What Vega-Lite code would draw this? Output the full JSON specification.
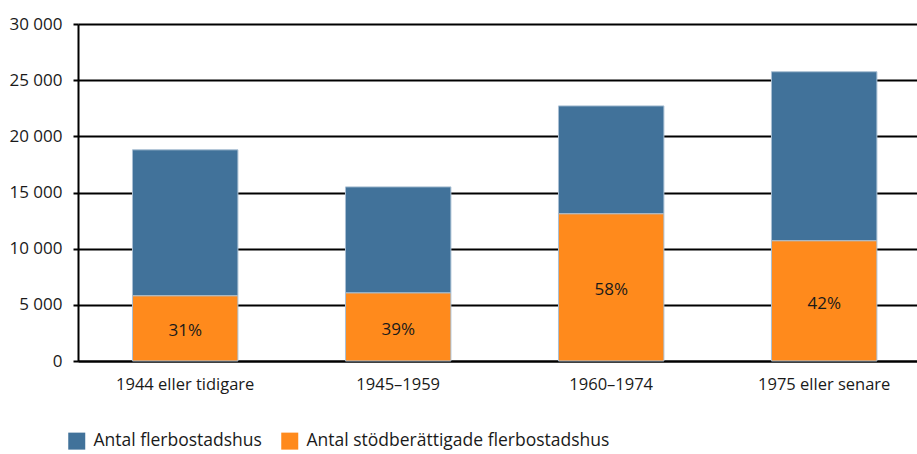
{
  "$schema": "https://vega.github.io/schema/vega-lite/v6.json",
  "autosize": "none",
  "width": 839,
  "height": 337,
  "padding": {"left": 78, "top": 24, "right": 0, "bottom": 93},
  "config": {
    "font": "Open Sans",
    "view": {"stroke": null},
    "axis": {"labelFont": "Open Sans", "labelColor": "#1a1a1a", "titleFont": "Open Sans"},
    "legend": {"labelFont": "Open Sans"}
  },
  "data": {
    "values": [
      {"period": "1944 eller tidigare", "serie": "Antal flerbostadshus", "value": 13000, "ord": 2, "label": ""},
      {"period": "1944 eller tidigare", "serie": "Antal stödberättigade flerbostadshus", "value": 5800, "ord": 1, "label": "31%"},
      {"period": "1945–1959", "serie": "Antal flerbostadshus", "value": 9440, "ord": 2, "label": ""},
      {"period": "1945–1959", "serie": "Antal stödberättigade flerbostadshus", "value": 6060, "ord": 1, "label": "39%"},
      {"period": "1960–1974", "serie": "Antal flerbostadshus", "value": 9610, "ord": 2, "label": ""},
      {"period": "1960–1974", "serie": "Antal stödberättigade flerbostadshus", "value": 13100, "ord": 1, "label": "58%"},
      {"period": "1975 eller senare", "serie": "Antal flerbostadshus", "value": 15050, "ord": 2, "label": ""},
      {"period": "1975 eller senare", "serie": "Antal stödberättigade flerbostadshus", "value": 10700, "ord": 1, "label": "42%"}
    ]
  },
  "encoding": {
    "x": {
      "field": "period",
      "type": "nominal",
      "sort": null,
      "scale": {"paddingInner": 0.505, "paddingOuter": 0.222, "align": 0.576},
      "axis": {
        "title": null,
        "labelAngle": 0,
        "labelFontSize": 16.5,
        "labelPadding": 15,
        "ticks": false,
        "domainColor": "#000000",
        "domainWidth": 2
      }
    }
  },
  "layer": [
    {
      "mark": {"type": "bar", "stroke": "#a9bfd3", "strokeWidth": 1},
      "encoding": {
        "y": {
          "field": "value",
          "type": "quantitative",
          "stack": "zero",
          "scale": {"domain": [0, 30000], "nice": false},
          "axis": {
            "title": null,
            "values": [0, 5000, 10000, 15000, 20000, 25000, 30000],
            "labelExpr": "replace(format(datum.value, ','), ',', ' ')",
            "labelFontSize": 17,
            "labelPadding": 11,
            "tickSize": 5,
            "tickColor": "#000000",
            "tickWidth": 2,
            "domainColor": "#000000",
            "domainWidth": 2,
            "grid": true,
            "gridColor": "#000000",
            "gridWidth": 2,
            "gridOpacity": 1
          }
        },
        "order": {"field": "ord", "type": "quantitative"},
        "color": {
          "field": "serie",
          "type": "nominal",
          "sort": ["Antal flerbostadshus", "Antal stödberättigade flerbostadshus"],
          "scale": {
            "domain": ["Antal flerbostadshus", "Antal stödberättigade flerbostadshus"],
            "range": ["#41729a", "#ff8a1c"]
          },
          "legend": {
            "title": null,
            "orient": "none",
            "legendX": -10,
            "legendY": 408,
            "direction": "horizontal",
            "symbolType": "square",
            "symbolSize": 289,
            "symbolStrokeWidth": 0,
            "symbolOpacity": 1,
            "labelFontSize": 17.5,
            "labelLimit": 0,
            "labelColor": "#1a1a1a",
            "labelOffset": 8,
            "columnPadding": 19
          }
        }
      }
    },
    {
      "transform": [
        {"filter": "datum.label != ''"},
        {"calculate": "datum.value / 2", "as": "mid"}
      ],
      "mark": {"type": "text", "fontSize": 17, "color": "#1a1a1a", "baseline": "middle", "dy": 3},
      "encoding": {
        "y": {"field": "mid", "type": "quantitative"},
        "text": {"field": "label"}
      }
    }
  ]
}
